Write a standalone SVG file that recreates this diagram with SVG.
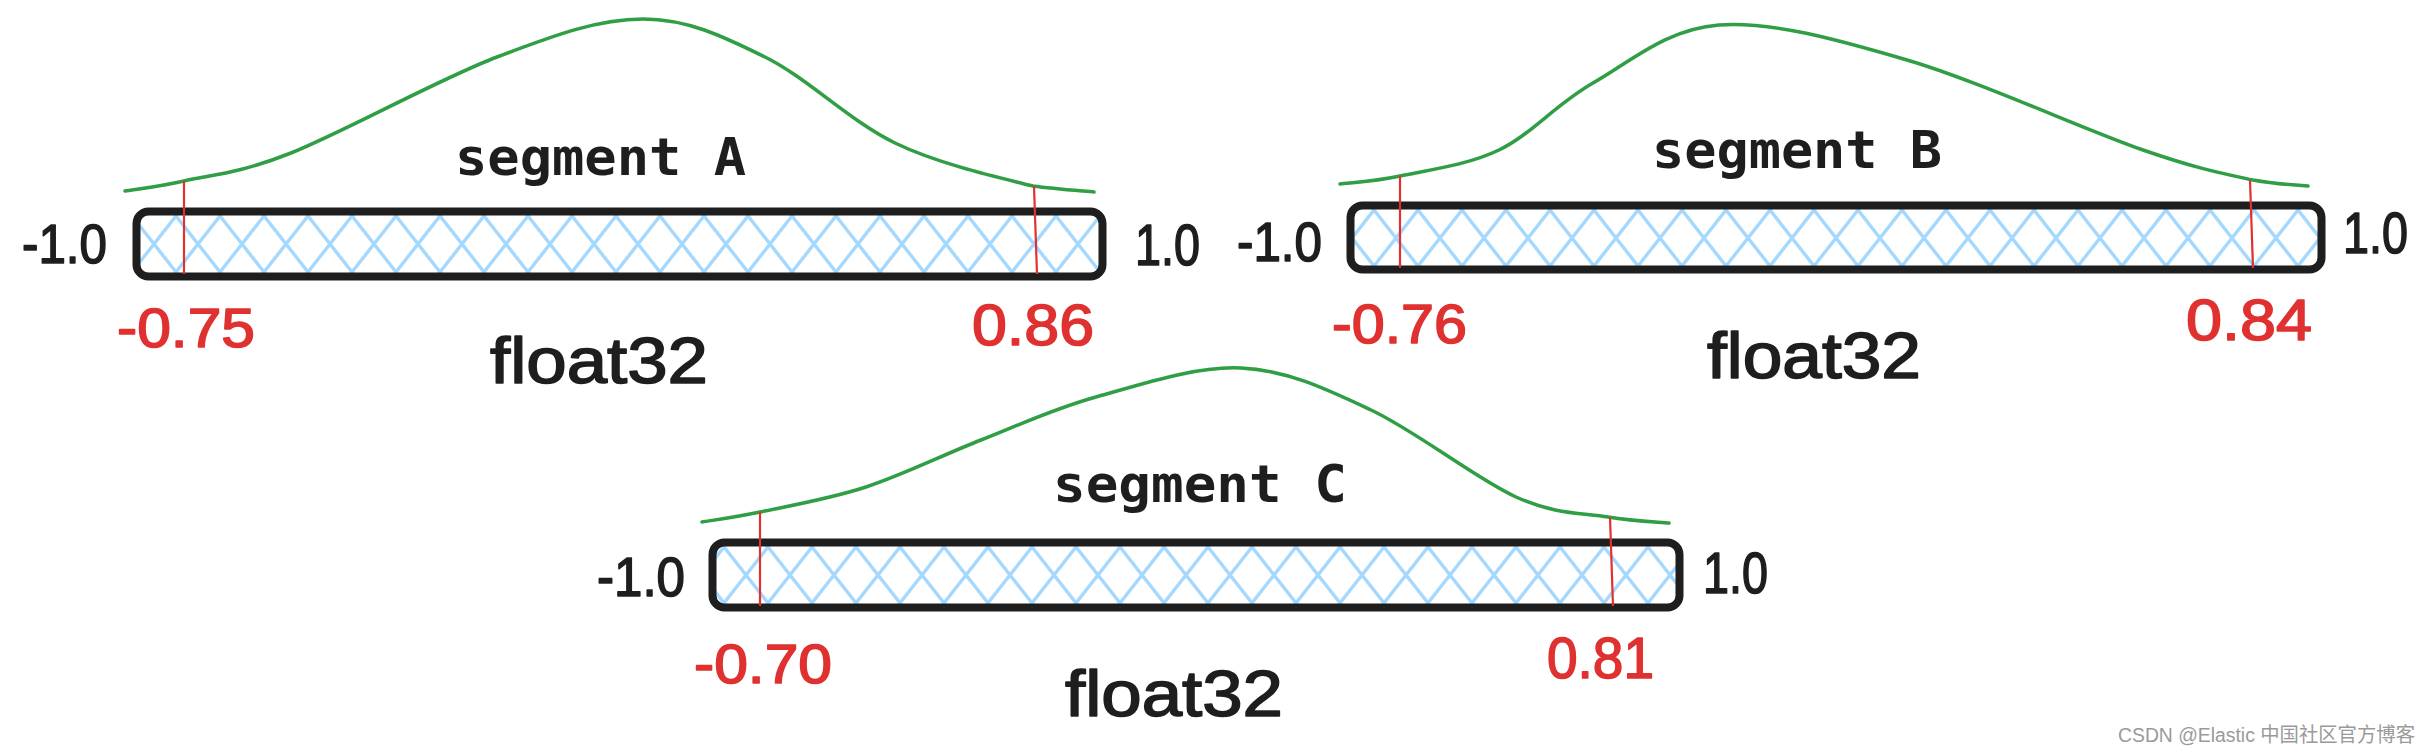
<svg xmlns="http://www.w3.org/2000/svg" width="2432" height="754" viewBox="0 0 2432 754">
  <style>
    .curve { fill: none; stroke: #2f9e44; stroke-width: 3.5; stroke-linecap: round; stroke-linejoin: round; }
    .box { fill: none; stroke: #1e1e1e; stroke-width: 8; }
    .mark { stroke: #e03131; stroke-width: 2.2; fill: none; }
    .title { font-family: "DejaVu Sans Mono", "Liberation Mono", monospace; font-size: 52px; font-weight: bold; fill: #1e1e1e; }
    .hand { font-family: "Liberation Sans", "DejaVu Sans", sans-serif; fill: #1e1e1e; stroke: #1e1e1e; stroke-width: 1.6; stroke-linejoin: round; }
    .red { fill: #e03131; stroke: #e03131; }
    .wm { font-family: "Liberation Sans", "Noto Sans CJK SC", sans-serif; font-size: 20px; fill: #9a9a9a; }
  </style>
  <defs>
    <pattern id="hatchA" patternUnits="userSpaceOnUse" x="0" y="216" width="44" height="56">
      <path d="M0,0 L44,56 M44,0 L0,56" stroke="#a5d8ff" stroke-width="3.4" fill="none"/>
    </pattern>
    <pattern id="hatchB" patternUnits="userSpaceOnUse" x="10" y="210" width="44" height="56">
      <path d="M0,0 L44,56 M44,0 L0,56" stroke="#a5d8ff" stroke-width="3.4" fill="none"/>
    </pattern>
    <pattern id="hatchC" patternUnits="userSpaceOnUse" x="20" y="547" width="44" height="56">
      <path d="M0,0 L44,56 M44,0 L0,56" stroke="#a5d8ff" stroke-width="3.4" fill="none"/>
    </pattern>
  </defs>
  <rect x="0" y="0" width="2432" height="754" fill="#ffffff"/>

  <g id="segment-a">
    <path class="curve" d="M125,191 C134.8,189.3 156.3,187.3 184,181 C211.7,174.7 238.8,173.7 291,153 C343.2,132.3 438.3,79.3 497,57 C555.7,34.7 598.3,19 643,19 C687.7,19 723,36.3 765,57 C807,77.7 850.3,121.5 895,143 C939.7,164.5 999.8,177.8 1033,186 C1055,189 1083.8,191 1094,192"/>
    <rect x="136.5" y="211.5" width="966" height="65" rx="12" fill="url(#hatchA)"/>
    <rect class="box" x="136.5" y="211.5" width="966" height="65" rx="12"/>
    <line class="mark" x1="184" y1="181" x2="184" y2="274"/>
    <line class="mark" x1="1034" y1="186" x2="1037" y2="274"/>
    <text class="title" x="455" y="175" textLength="291" lengthAdjust="spacingAndGlyphs">segment A</text>
    <text class="hand" x="22" y="263" font-size="56" textLength="85" lengthAdjust="spacingAndGlyphs">-1.0</text>
    <text class="hand" x="1135" y="265" font-size="58" textLength="65" lengthAdjust="spacingAndGlyphs">1.0</text>
    <text class="hand red" x="117" y="347" font-size="56" textLength="138" lengthAdjust="spacingAndGlyphs">-0.75</text>
    <text class="hand red" x="972" y="345" font-size="58" textLength="122" lengthAdjust="spacingAndGlyphs">0.86</text>
    <text class="hand" x="490" y="383" font-size="64" textLength="218" lengthAdjust="spacingAndGlyphs">float32</text>
  </g>

  <g id="segment-b">
    <path class="curve" d="M1340,184 C1350,182.7 1373.5,181.7 1400,176 C1426.5,170.3 1466.8,165.5 1499,150 C1531.2,134.5 1556.3,103.8 1593,83 C1629.7,62.2 1666.7,28.8 1719,25 C1771.3,21.2 1836.3,39.2 1907,60 C1977.7,80.8 2085.3,130 2143,150 C2200.7,170 2225.5,174 2253,180 C2280.5,185 2298.8,185 2308,186"/>
    <rect x="1350.5" y="205.5" width="971" height="64" rx="12" fill="url(#hatchB)"/>
    <rect class="box" x="1350.5" y="205.5" width="971" height="64" rx="12"/>
    <line class="mark" x1="1400" y1="176" x2="1400" y2="268"/>
    <line class="mark" x1="2250" y1="180" x2="2253" y2="268"/>
    <text class="title" x="1652" y="168" textLength="290" lengthAdjust="spacingAndGlyphs">segment B</text>
    <text class="hand" x="1237" y="261" font-size="56" textLength="85" lengthAdjust="spacingAndGlyphs">-1.0</text>
    <text class="hand" x="2343" y="253" font-size="58" textLength="65" lengthAdjust="spacingAndGlyphs">1.0</text>
    <text class="hand red" x="1332" y="343" font-size="56" textLength="135" lengthAdjust="spacingAndGlyphs">-0.76</text>
    <text class="hand red" x="2186" y="340" font-size="58" textLength="126" lengthAdjust="spacingAndGlyphs">0.84</text>
    <text class="hand" x="1707" y="378" font-size="64" textLength="214" lengthAdjust="spacingAndGlyphs">float32</text>
  </g>

  <g id="segment-c">
    <path class="curve" d="M702,522 C711.7,520.3 732.7,517.8 760,512 C787.3,506.2 829.2,499 866,487 C902.8,475 942.7,455 981,440 C1019.3,425 1052.7,409 1096,397 C1139.3,385 1195.2,365.8 1241,368 C1286.8,370.2 1325.2,388.5 1371,410 C1416.8,431.5 1476.5,479.2 1516,497 C1555.5,514.8 1582.5,512.7 1608,517 C1633.5,521.3 1658.8,522 1669,523"/>
    <rect x="712.5" y="542.5" width="967" height="65" rx="12" fill="url(#hatchC)"/>
    <rect class="box" x="712.5" y="542.5" width="967" height="65" rx="12"/>
    <line class="mark" x1="760" y1="512" x2="760" y2="606"/>
    <line class="mark" x1="1610" y1="517" x2="1613" y2="606"/>
    <text class="title" x="1053" y="502" textLength="294" lengthAdjust="spacingAndGlyphs">segment C</text>
    <text class="hand" x="597" y="596" font-size="56" textLength="88" lengthAdjust="spacingAndGlyphs">-1.0</text>
    <text class="hand" x="1703" y="593" font-size="58" textLength="65" lengthAdjust="spacingAndGlyphs">1.0</text>
    <text class="hand red" x="694" y="683" font-size="56" textLength="138" lengthAdjust="spacingAndGlyphs">-0.70</text>
    <text class="hand red" x="1547" y="678" font-size="58" textLength="107" lengthAdjust="spacingAndGlyphs">0.81</text>
    <text class="hand" x="1065" y="716" font-size="64" textLength="218" lengthAdjust="spacingAndGlyphs">float32</text>
  </g>

  <g id="connectors"></g>

  <g id="watermark">
    <text class="wm" x="2118" y="742" textLength="297" lengthAdjust="spacingAndGlyphs">CSDN @Elastic 中国社区官方博客</text>
  </g>
</svg>
